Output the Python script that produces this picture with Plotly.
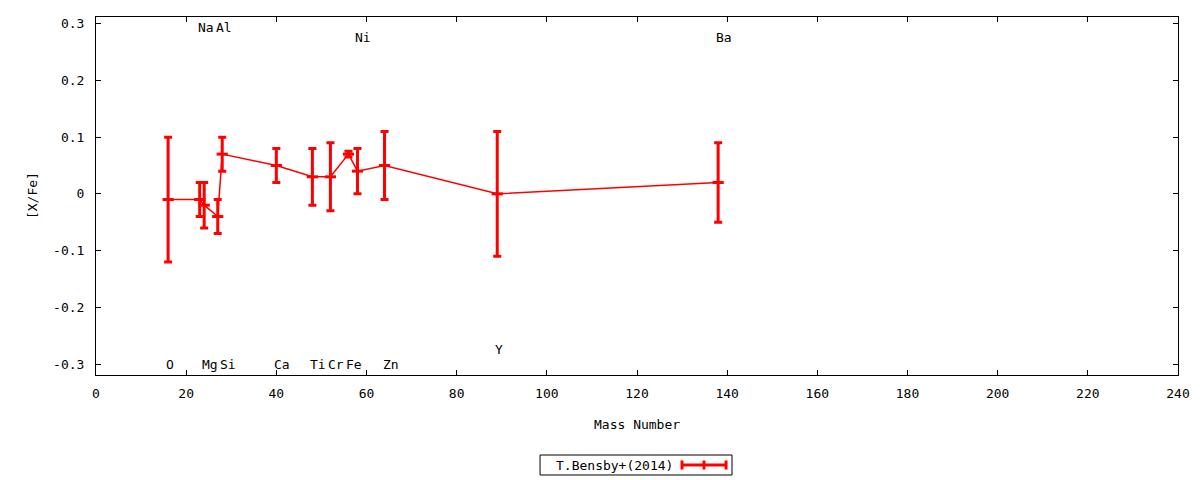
import plotly.graph_objects as go

# Abundance ratios [X/Fe] vs. mass number, T.Bensby+(2014)
elements = ["O", "Na", "Mg", "Al", "Si", "Ca", "Ti", "Cr", "Fe", "Ni", "Zn", "Y", "Ba"]
mass_number = [16, 23, 24, 27, 28, 40, 48, 52, 56, 58, 64, 89, 138]
x_fe = [-0.01, -0.01, -0.02, -0.04, 0.07, 0.05, 0.03, 0.03, 0.07, 0.04, 0.05, 0.0, 0.02]
x_fe_err = [0.11, 0.03, 0.04, 0.03, 0.03, 0.03, 0.05, 0.06, 0.005, 0.04, 0.06, 0.11, 0.07]
label_y = [-0.30, 0.293, -0.30, 0.293, -0.30, -0.30, -0.30, -0.30, -0.30, 0.276, -0.30, -0.275, 0.276]

x_ticks = list(range(0, 241, 20))
y_ticks = [-0.3, -0.2, -0.1, 0, 0.1, 0.2, 0.3]
y_tick_text = ["-0.3", "-0.2", "-0.1", "0", "0.1", "0.2", "0.3"]

series_name = "T.Bensby+(2014)"
red = "#ff0000"
font = "DejaVu Sans Mono"

fig = go.Figure()

fig.add_trace(go.Scatter(
    x=mass_number,
    y=x_fe,
    mode="lines+markers",
    name=series_name,
    line=dict(color=red, width=1.5),
    marker=dict(symbol="line-ew", size=8, color=red,
                line=dict(color=red, width=3)),
    error_y=dict(type="data", array=x_fe_err, visible=True,
                 color=red, thickness=3, width=4),
    showlegend=False,
))

# element labels
for el, m, ly in zip(elements, mass_number, label_y):
    fig.add_annotation(x=m, y=ly, text=el, showarrow=False,
                       xanchor="left", yanchor="middle", xshift=-4,
                       font=dict(family=font, size=13, color="black"))

# gnuplot-style key: text then sample, boxed
fig.add_shape(type="rect", xref="paper", yref="paper",
              x0=0.4104, x1=0.5878, y0=-0.2793, y1=-0.2235,
              line=dict(color="black", width=1), fillcolor="white")
fig.add_annotation(xref="paper", yref="paper", x=0.4233, y=-0.2514,
                   text=series_name, showarrow=False,
                   xanchor="left", yanchor="middle",
                   font=dict(family=font, size=13, color="black"))
fig.add_shape(type="line", xref="paper", yref="paper",
              x0=0.5416, x1=0.5823, y0=-0.2514, y1=-0.2514,
              line=dict(color=red, width=3))
for xc in (0.5416, 0.5619, 0.5823):
    fig.add_shape(type="line", xref="paper", yref="paper",
                  x0=xc, x1=xc, y0=-0.2640, y1=-0.2388,
                  line=dict(color=red, width=3))

# axis titles
fig.add_annotation(xref="paper", yref="paper", x=0.5, y=-0.137,
                   text="Mass Number", showarrow=False,
                   xanchor="center", yanchor="middle",
                   font=dict(family=font, size=13, color="black"))
fig.add_annotation(xref="paper", yref="paper", x=-0.0591, y=0.5,
                   text="[X/Fe]", showarrow=False, textangle=-90,
                   xanchor="center", yanchor="middle",
                   font=dict(family=font, size=13, color="black"))

axis_style = dict(showline=True, linecolor="black", linewidth=1,
                  mirror="ticks", ticks="inside", ticklen=5,
                  tickcolor="black", showgrid=False, zeroline=False,
                  automargin=False,
                  tickfont=dict(family=font, size=13, color="black"))

fig.update_xaxes(range=[0, 240], tickvals=x_ticks, ticklabelstandoff=6,
                 **axis_style)
fig.update_yaxes(range=[-0.3194, 0.3118], tickvals=y_ticks,
                 ticktext=y_tick_text, ticklabelstandoff=8, **axis_style)

# the page body adds an 8px margin, so the figure is offset by it
fig.update_layout(
    width=1184, height=472,
    margin=dict(l=88, r=14, t=9, b=105),
    plot_bgcolor="white", paper_bgcolor="white",
    font=dict(family=font, size=13, color="black"),
)

fig.write_html("out.html")
